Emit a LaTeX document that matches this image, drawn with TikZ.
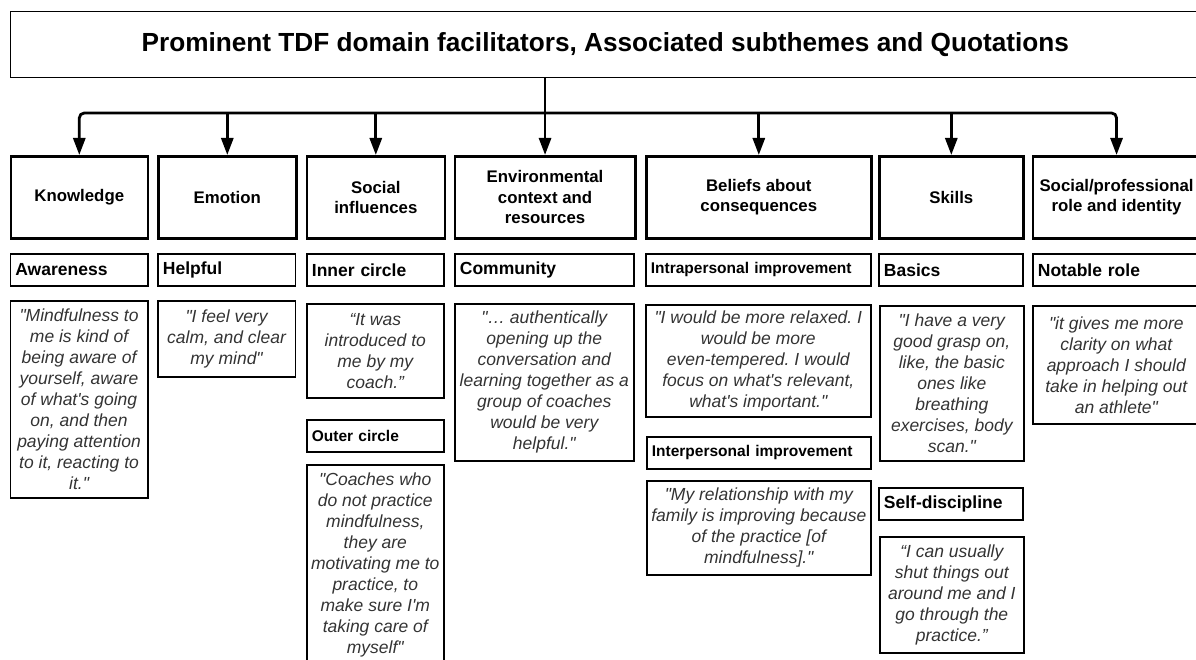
\documentclass[tikz,border=0pt]{standalone}
\usepackage{fontspec}
\setmainfont{Liberation Sans}
\newfontfamily\quotefont{Liberation Sans}
\usetikzlibrary{arrows.meta,positioning}
\frenchspacing

\tikzset{
  titlebox/.style={draw, line width=1.4pt, anchor=north west, minimum width=1190pt,
    minimum height=66pt, font=\fontsize{26.2}{30}\selectfont\bfseries},
  domainbox/.style={draw, line width=2.6pt, anchor=north west, minimum width=#1,
    minimum height=82pt, inner sep=0pt, align=center,
    font=\fontsize{16.8}{20.5}\selectfont\bfseries},
  subbox/.style={draw, line width=1.8pt, anchor=north west, minimum height=32pt,
    inner xsep=5pt, inner ysep=0pt, text width=#1, align=left,
    font=\fontsize{17.5}{21}\selectfont\bfseries},
  smallsub/.style={font=\fontsize{15.5}{19}\selectfont\bfseries},
  quotebox/.style 2 args={draw, line width=1.6pt, anchor=north west, minimum width=#1,
    minimum height=#2, inner sep=0pt, align=center, text=black!80,
    font=\quotefont\fontsize{17.5}{21}\selectfont\itshape},
  link/.style={line width=2.8pt, -{Triangle[length=17pt,width=12pt]}},
}

\begin{document}
\begin{tikzpicture}[x=1pt, y=-1pt]
  \useasboundingbox (0,0) rectangle (1196,660);

  % --- Title ---
  \node[titlebox] (title) at (9.6,11)
    {Prominent TDF domain facilitators, Associated subthemes and Quotations};

  % --- TDF domains ---
  \node[domainbox=137pt]   (know)   at (9.5,155)   {Knowledge};
  \node[domainbox=138pt]   (emot)   at (157,155)   {Emotion};
  \node[domainbox=138pt]   (social) at (305.5,155) {Social\\influences};
  \node[domainbox=180.5pt] (env)    at (453.5,155) {Environmental\\context and\\resources};
  \node[domainbox=225pt]   (belief) at (645,155)   {Beliefs about\\consequences};
  \node[domainbox=144pt]   (skill)  at (878,155)   {Skills};
  \node[domainbox=167.5pt] (role)   at (1031.5,155) {Social/professional\\role and identity};

  % --- Connectors ---
  \coordinate (bus) at (544,113);
  \draw[link] (env.north |- title.south) -- (env.north);
  \draw[link, {Triangle[length=17pt,width=12pt]}-{Triangle[length=17pt,width=12pt]},
    rounded corners=5pt] (know.north) |- (bus) -| (role.north);
  \foreach \n in {emot,social,belief,skill}
    \draw[link] (\n.north |- bus) -- (\n.north);

  % --- Subthemes ---
  \node[subbox=127.5pt] (aware)   at (9.5,253)  {Awareness};
  \node[subbox=127.5pt] (helpful) at (157,253)  {Helpful};
  \node[subbox=127pt]   (inner)   at (306,253)  {Inner circle};
  \node[subbox=169pt]   (comm)    at (454,253)  {Community};
  \node[subbox=215pt, smallsub] (intra) at (645,253) {Intrapersonal improvement};
  \node[subbox=134pt]   (basics)  at (878,253)  {Basics};
  \node[subbox=157pt]   (notable) at (1032,253) {Notable role};
  \node[subbox=127pt, smallsub] (outer) at (306,419) {Outer circle};
  \node[subbox=214pt, smallsub] (inter) at (646,436) {Interpersonal improvement};
  \node[subbox=134pt]   (selfdis) at (878,487)  {Self-discipline};

  % --- Quotations ---
  \node[quotebox={137.5pt}{197pt}] (qaware) at (9.5,300)
    {"Mindfulness to\\me is kind of\\being aware of\\yourself, aware\\of what's going\\on, and then\\paying attention\\to it, reacting to\\it."};
  \node[quotebox={137.5pt}{76pt}] (qhelp) at (157,300)
    {"I feel very\\calm, and clear\\my mind"};
  \node[quotebox={137pt}{94pt}] (qinner) at (306,303)
    {“It was\\introduced to\\me by my\\coach.”};
  \node[quotebox={137pt}{200pt}] (qouter) at (306,464)
    {"Coaches who\\do not practice\\mindfulness,\\they are\\motivating me to\\practice, to\\make sure I'm\\taking care of\\myself"};
  \node[quotebox={179pt}{157pt}] (qcomm) at (454,303)
    {"… authentically\\opening up the\\conversation and\\learning together as a\\group of coaches\\would be very\\helpful."};
  \node[quotebox={225pt}{112pt}] (qintra) at (645,304)
    {"I would be more relaxed. I\\would be more\\even-tempered. I would\\focus on what's relevant,\\what's important."};
  \node[quotebox={224pt}{94pt}] (qinter) at (646,480)
    {"My relationship with my\\family is improving because\\of the practice [of\\mindfulness]."};
  \node[quotebox={144pt}{155pt}] (qbasic) at (879,305)
    {"I have a very\\good grasp on,\\like, the basic\\ones like\\breathing\\exercises, body\\scan."};
  \node[quotebox={144pt}{116pt}] (qself) at (879,536)
    {“I can usually\\shut things out\\around me and I\\go through the\\practice.”};
  \node[quotebox={167pt}{118pt}] (qnotable) at (1032,305)
    {"it gives me more\\clarity on what\\approach I should\\take in helping out\\an athlete"};
\end{tikzpicture}
\end{document}
